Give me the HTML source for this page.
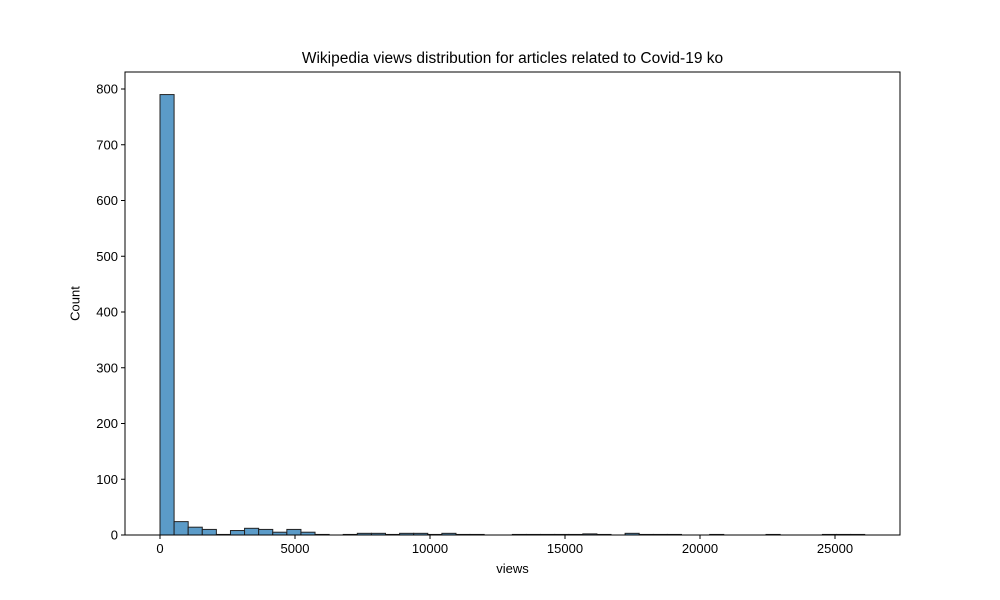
<!DOCTYPE html>
<html><head><meta charset="utf-8"><style>body{margin:0;background:#fff}svg{display:block;font-family:"Liberation Sans",sans-serif}</style></head>
<body>
<svg id="chart" width="1000" height="600"></svg>
<script>
const binStart = 0;
const binWidth = 522;
const counts = [790,24,14,10,1,8,12,10,5,10,5,1,0,1,3,3,1,3,3,1,3,1,1,0,0,1,1,1,1,1,2,1,0,3,1,1,1,0,0,1,0,0,0,1,0,0,0,1,1,1];
const xTicks = [0,5000,10000,15000,20000,25000];
const yTicks = [0,100,200,300,400,500,600,700,800];
const L=125,R=900,T=72,B=535;
const xs=v=>160+(v/25000)*675;
const ys=v=>B-v*(446/800);
const svg=document.getElementById('chart');
const NS='http://www.w3.org/2000/svg';
function mk(tag,attrs,parent){const e=document.createElementNS(NS,tag);for(const k in attrs)e.setAttribute(k,attrs[k]);(parent||svg).appendChild(e);return e;}
const bars=mk('g',{});


counts.forEach((c,i)=>{
  const x0=xs(binStart+i*binWidth),x1=xs(binStart+(i+1)*binWidth);
  const r=mk('rect',{x:x0,y:ys(c),width:x1-x0,height:B-ys(c),fill:'#5b9bc8',stroke:'#222','stroke-width':1},bars);
  
  
});
const frame=mk('rect',{x:L,y:T,width:R-L,height:B-T,fill:'none',stroke:'#000','stroke-width':1});


xTicks.forEach(v=>{
  mk('line',{x1:xs(v),x2:xs(v),y1:B,y2:B+4,stroke:'#000'});
  const t=mk('text',{x:xs(v),y:B+18,'text-anchor':'middle','font-size':13});
  t.textContent=v;
  
  
});
yTicks.forEach(v=>{
  mk('line',{x1:L-4,x2:L,y1:ys(v),y2:ys(v),stroke:'#000'});
  const t=mk('text',{x:L-7,y:ys(v)+4.5,'text-anchor':'end','font-size':13});
  t.textContent=v;
  
  
});
</script>
<div style="position:absolute;left:0;top:0;width:1000px;height:600px;pointer-events:none">
<div style="position:absolute;left:125px;width:775px;top:50px;text-align:center;font:15.5px 'Liberation Sans',sans-serif">Wikipedia views distribution for articles related to Covid-19 ko</div>
<div style="position:absolute;left:125px;width:775px;top:561px;text-align:center;font:13px 'Liberation Sans',sans-serif">views</div>
<div style="position:absolute;left:55px;top:296px;width:40px;text-align:center;transform:rotate(-90deg);font:13px 'Liberation Sans',sans-serif">Count</div>
</div>
</body></html>
